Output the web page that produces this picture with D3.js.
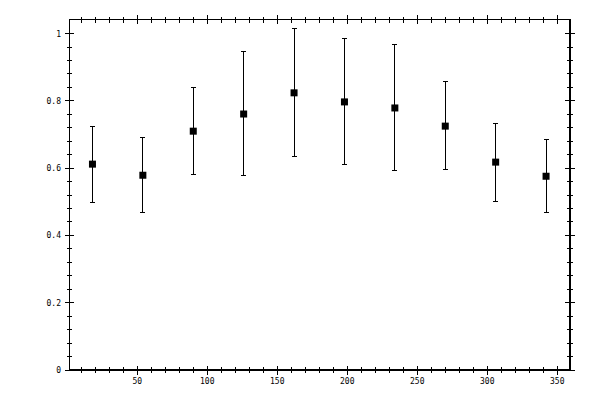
<!DOCTYPE html>
<html>
<head>
<meta charset="utf-8">
<script src="https://cdn.jsdelivr.net/npm/d3@7"></script>
<style>
  body { margin: 0; background: #fff; }
  text { font-family: "DejaVu Sans Mono", monospace; font-size: 8px; fill: #000; }
</style>
</head>
<body>
<div id="chart"></div>
<script>
// angle bins (deg) with mean and error bar ends
const xs    = [18, 54, 90, 126, 162, 198, 234, 270, 306, 342]
const means = [0.612, 0.579, 0.710, 0.761, 0.824, 0.797, 0.779, 0.725, 0.618, 0.576]
const lows  = [0.498, 0.469, 0.582, 0.577, 0.636, 0.612, 0.594, 0.597, 0.502, 0.469]
const highs = [0.724, 0.690, 0.839, 0.946, 1.015, 0.985, 0.968, 0.858, 0.734, 0.684]
const xTicks = [50, 100, 150, 200, 250, 300, 350]
const yTicks = [0, 0.2, 0.4, 0.6, 0.8, 1]

const W = 600, H = 400
const ML = 69.5, MR = 30, MT = 19.5, MB = 30 // plot box margins

const pts = xs.map((x, i) => ({ x, m: means[i], lo: lows[i], hi: highs[i] }))

const xsc = d3.scaleLinear([1.6, 359.1], [ML, W - MR])
const ysc = d3.scaleLinear([0, 1.042], [H - MB, MT])

const svg = d3.select('#chart').append('svg').attr('width', W).attr('height', H)

const g = svg.append('g').attr('shape-rendering', 'crispEdges')

// frame
g.append('rect').attr('x', ML).attr('y', MT)
  .attr('width', W - MR - ML).attr('height', H - MB - MT)
  .attr('fill', 'none').attr('stroke', '#000').attr('stroke-width', 1.3)

// ticks crossing the frame on all four sides
const xMinor = d3.range(10, 360, 10).filter(d => d % 50 !== 0)
const yMinor = d3.range(1, 26).map(i => i * 0.04).filter((d, i) => (i + 1) % 5 !== 0)
const tick = (sel, data, orient, len) => {
  const [a, b] = len
  sel.selectAll(null).data(data).join('line')
    .attr('stroke', '#000')
    .each(function (d) {
      const l = d3.select(this)
      if (orient === 'bottom' || orient === 'top') {
        const y0 = orient === 'bottom' ? H - MB : MT
        l.attr('x1', xsc(d)).attr('x2', xsc(d)).attr('y1', y0 - a).attr('y2', y0 + b)
      } else {
        const x0 = orient === 'left' ? ML : W - MR
        l.attr('y1', ysc(d)).attr('y2', ysc(d)).attr('x1', x0 - a).attr('x2', x0 + b)
      }
    })
}
for (const o of ['bottom', 'top']) {
  tick(g, xMinor, o, [3, 3])
  tick(g, xTicks, o, [4.5, 4.5])
}
for (const o of ['left', 'right']) {
  tick(g, yMinor, o, [3, 2.5])
  tick(g, yTicks, o, [5, 4.5])
}

// tick labels
svg.selectAll('.xl').data(xTicks).join('text')
  .attr('x', d => xsc(d)).attr('y', H - MB + 14)
  .attr('text-anchor', 'middle').text(d => d)
svg.selectAll('.yl').data(yTicks).join('text')
  .attr('x', ML - 8.5).attr('y', d => ysc(d) + 3)
  .attr('text-anchor', 'end').text(d => d)

// error bars + caps
const eb = svg.append('g').attr('stroke', '#000').attr('shape-rendering', 'crispEdges')
eb.selectAll('.bar').data(pts).join('line')
  .attr('x1', d => xsc(d.x)).attr('x2', d => xsc(d.x))
  .attr('y1', d => ysc(d.lo)).attr('y2', d => ysc(d.hi))
for (const k of ['lo', 'hi']) {
  eb.selectAll('.cap-' + k).data(pts).join('line')
    .attr('x1', d => xsc(d.x) - 2.5).attr('x2', d => xsc(d.x) + 2.5)
    .attr('y1', d => ysc(d[k])).attr('y2', d => ysc(d[k]))
}

// square markers
svg.selectAll('.pt').data(pts).join('rect')
  .attr('x', d => xsc(d.x) - 3.5).attr('y', d => ysc(d.m) - 3.5)
  .attr('width', 7).attr('height', 7).attr('fill', '#000')
</script>
</body>
</html>
